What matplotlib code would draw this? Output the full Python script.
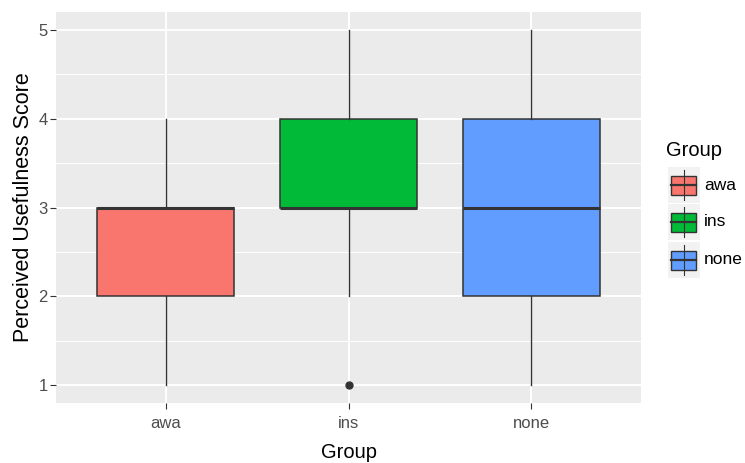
import matplotlib.pyplot as plt
from matplotlib.patches import Rectangle

#%% Data

groups   = ['awa', 'ins', 'none']
whislo   = [1, 2, 1]
q1       = [2, 3, 2]
med      = [3, 3, 3]
q3       = [3, 4, 4]
whishi   = [4, 5, 5]
fliers   = [[], [1], []]
colors   = ['#F8766D', '#00BA38', '#619CFF']
y_ticks  = [1, 2, 3, 4, 5]

plt.rcParams['font.family'] = ['Liberation Sans', 'DejaVu Sans']

W, H = 745, 463
fig = plt.figure(figsize=(W / 100, H / 100), dpi=100)

#%% Panel (pixel box of the ggplot panel)
px_l, px_r, px_t, px_b = 56, 641, 12, 403
ax = fig.add_axes([px_l / W, 1 - px_b / H, (px_r - px_l) / W, (px_b - px_t) / H])
ax.set_facecolor('#EBEBEB')
for s in ax.spines.values():
    s.set_visible(False)

stats = []
for i, g in enumerate(groups):
    stats.append(dict(label=g, whislo=whislo[i], q1=q1[i], med=med[i],
                      q3=q3[i], whishi=whishi[i], fliers=fliers[i]))

bp = ax.bxp(stats, positions=range(1, len(groups) + 1), widths=0.75,
            patch_artist=True, showcaps=False,
            boxprops=dict(edgecolor='#333333', linewidth=1.1),
            medianprops=dict(color='#333333', linewidth=2.2),
            whiskerprops=dict(color='#333333', linewidth=1.0),
            flierprops=dict(marker='o', markerfacecolor='#333333',
                            markeredgecolor='#333333', markersize=5))
for patch, c in zip(bp['boxes'], colors):
    patch.set_facecolor(c)

ax.set_xlim(0.4, 3.6)
ax.set_ylim(0.8, 5.2)
ax.set_yticks(y_ticks)
ax.set_yticks([1.5, 2.5, 3.5, 4.5], minor=True)
ax.set_xticks(range(1, len(groups) + 1))
ax.set_xticklabels(groups)
ax.set_axisbelow(True)
ax.grid(which='major', color='white', linewidth=1.4)
ax.grid(which='minor', axis='y', color='white', linewidth=0.7)
ax.tick_params(which='major', length=4, width=0.8, color='#333333',
               labelcolor='#4D4D4D', labelsize=12, pad=2)
ax.tick_params(axis='x', which='major', pad=5)
ax.tick_params(which='minor', length=0)

ax.set_xlabel('Group', fontsize=14.5, labelpad=9)
ax.set_ylabel('Perceived Usefulness Score', fontsize=15.5, labelpad=3)

#%% Legend drawn by hand in pixel coordinates
lax = fig.add_axes([0, 0, 1, 1])
lax.set_xlim(0, W)
lax.set_ylim(H, 0)
lax.axis('off')
lax.text(666, 150, 'Group', fontsize=14.5, ha='left', va='center')
key_top = [167, 204, 242]
for c, g, kt in zip(colors, groups, key_top):
    lax.add_patch(Rectangle((668, kt), 32, 36, facecolor='#F2F2F2', edgecolor='none'))
    cy = kt + 18
    lax.plot([684, 684], [kt + 3, kt + 33], color='#333333', lw=0.8)
    lax.add_patch(Rectangle((671, cy - 9.5), 25, 19, facecolor=c,
                            edgecolor='#333333', lw=1.0))
    lax.plot([671, 696], [cy, cy], color='#333333', lw=1.6)
    lax.text(704, cy, g, fontsize=12.5, ha='left', va='center', color='black')

fig.savefig('out.png', dpi=100)
